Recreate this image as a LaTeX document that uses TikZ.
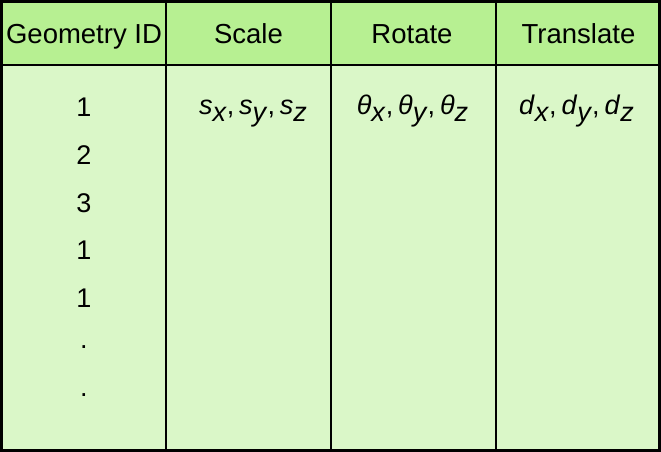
\documentclass[tikz,border=0pt]{standalone}
\usepackage{fontspec}
\setmainfont{Liberation Sans}

\definecolor{headgreen}{RGB}{183,240,146}
\definecolor{bodygreen}{RGB}{218,247,200}

\tikzset{
  headtext/.style={anchor=base, font=\fontsize{27.5}{30}\selectfont},
  celltext/.style={anchor=base, font=\fontsize{27}{30}\selectfont},
  gridline/.style={line width=2pt},
}
\newcommand{\lowsub}[2]{\textit{#1}\raisebox{-7pt}{\textit{#2}}}
\newcommand{\sep}{,\hspace{0.18em}}

\begin{document}
\begin{tikzpicture}[x=1pt,y=-1pt]
  \useasboundingbox (0,0) rectangle (661,452);
  \fill[bodygreen] (0,0) rectangle (661,452);
  \fill[headgreen] (0,0) rectangle (661,65);
  \draw[gridline] (0,65) -- (661,65);
  \foreach \x in {166,331,496}
    \draw[gridline] (\x,0) -- (\x,452);
  \draw[line width=3pt] (1.5,1.5) rectangle (659.5,450.5);

  % header
  \node[headtext] (geomid) at (84,44) {Geometry ID};
  \node[headtext] (scale) at (248.5,44) {Scale};
  \node[headtext] (rotate) at (412,44) {Rotate};
  \node[headtext] (translate) at (578.5,44) {Translate};

  % body
  \foreach \id [count=\i from 0] in {1,2,3,1,1}
    \node[celltext] (id\i) at (84,116.5+47.8*\i) {\id};
  \node[celltext] (dota) at (84,348) {.};
  \node[celltext] (dotb) at (84,396) {.};
  \node[celltext] (scalexyz) at (253,114) {\lowsub{s}{x}\sep\lowsub{s}{y}\sep\lowsub{s}{z}};
  \node[celltext] (rotatexyz) at (412.5,114) {\lowsub{θ}{x}\sep\lowsub{θ}{y}\sep\lowsub{θ}{z}};
  \node[celltext] (translatexyz) at (576.5,114) {\lowsub{d}{x}\sep\lowsub{d}{y}\sep\lowsub{d}{z}};
\end{tikzpicture}
\end{document}
